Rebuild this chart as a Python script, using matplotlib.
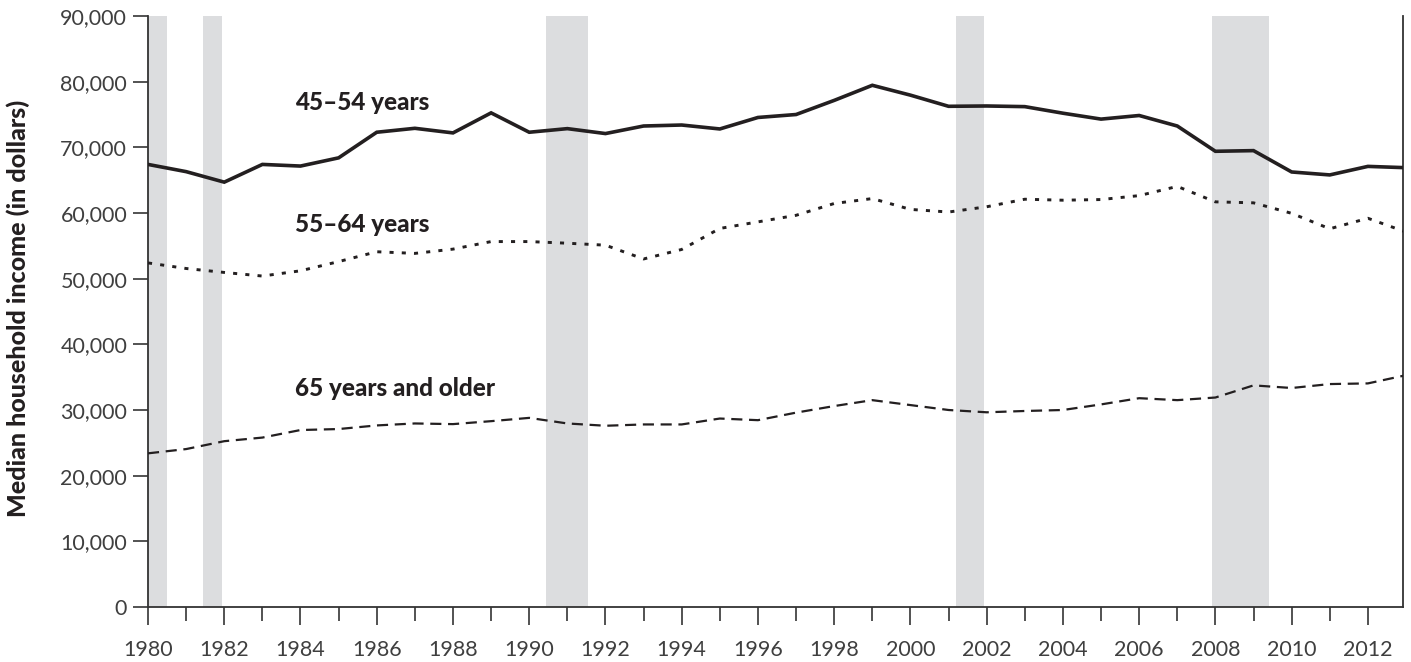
import numpy as np
import matplotlib
matplotlib.use("Agg")
import matplotlib.pyplot as plt
from matplotlib.ticker import FuncFormatter, MultipleLocator

years = list(range(1980, 2014))

# median household income by age of householder (dollars)
age_45_54 = [67400, 66300, 64700, 67400, 67150, 68400, 72300, 72900, 72200, 75250,
             72300, 72850, 72100, 73250, 73400, 72800, 74550, 75000, 77150, 79450,
             77950, 76250, 76300, 76200, 75200, 74300, 74850, 73250, 69400, 69500,
             66250, 65800, 67100, 66900]
age_55_64 = [52400, 51550, 50950, 50400, 51200, 52600, 54100, 53850, 54500, 55650,
             55650, 55400, 55100, 53000, 54450, 57650, 58650, 59650, 61450, 62200,
             60550, 60150, 60950, 62100, 61950, 62050, 62650, 64050, 61700, 61550,
             59950, 57600, 59200, 57100]
age_65_up = [23400, 24050, 25250, 25800, 26950, 27100, 27650, 27950, 27850, 28300,
             28800, 27950, 27600, 27800, 27800, 28700, 28450, 29600, 30600, 31500,
             30750, 30000, 29650, 29850, 30000, 30850, 31800, 31500, 31900, 33750,
             33350, 33950, 34050, 35300]

# recession bands as drawn (start, end)
recessions = [(1980.0, 1980.5), (1981.45, 1981.95), (1990.45, 1991.55),
              (2001.2, 2001.93), (2007.92, 2009.4)]

series_labels = ["45\u201354 years", "55\u201364 years", "65 years and older"]
label_pos = [(1983.85, 76900), (1983.85, 58200), (1983.85, 33300)]

ink = "#231f20"
plt.rcParams['font.family'] = ['Lato', 'DejaVu Sans']

fig = plt.figure(figsize=(14.11, 6.62), dpi=100)
ax = fig.add_axes([0.1049, 0.0831, 0.8894, 0.8927])

for a, b in recessions:
    ax.axvspan(a, b, color="#dcdddf", lw=0, zorder=0)

ax.plot(years, age_45_54, color=ink, lw=2.6, solid_joinstyle="miter", zorder=3)
ax.plot(years, age_55_64, color=ink, lw=2.1, linestyle=(0, (1.4, 2.8)), zorder=3)
ax.plot(years, age_65_up, color=ink, lw=1.6, linestyle=(0, (5.0, 3.0)), zorder=3)

for txt, (x, y) in zip(series_labels, label_pos):
    ax.text(x, y, txt, fontsize=17.5, fontweight="black", color=ink,
            va="center", ha="left")

ax.set_xlim(1980, 2012.92)
ax.set_ylim(0, 90000)

ax.xaxis.set_major_locator(MultipleLocator(2))
ax.xaxis.set_minor_locator(MultipleLocator(1))
ax.yaxis.set_major_locator(MultipleLocator(10000))
ax.yaxis.set_major_formatter(FuncFormatter(lambda v, p: f"{int(v):,}"))

ax.tick_params(axis="x", which="major", length=13, width=1.3, color="#444444",
               direction="out", pad=11, labelsize=15.5, labelcolor="#3f3f3f")
ax.tick_params(axis="x", which="minor", length=10, width=1.3, color="#444444",
               direction="out")
ax.tick_params(axis="y", length=11, width=1.3, color="#444444", direction="out",
               pad=4, labelsize=15.5, labelcolor="#3f3f3f")

for s in ["left", "bottom", "right"]:
    ax.spines[s].set_color("#333333")
    ax.spines[s].set_linewidth(1.3)
ax.spines["top"].set_visible(False)

fig.text(18 / 1411, 1 - 308 / 662, "Median household income (in dollars)",
         rotation=90, fontsize=18, fontweight="black", color=ink,
         ha="center", va="center")

fig.savefig("out.png", dpi=100)
